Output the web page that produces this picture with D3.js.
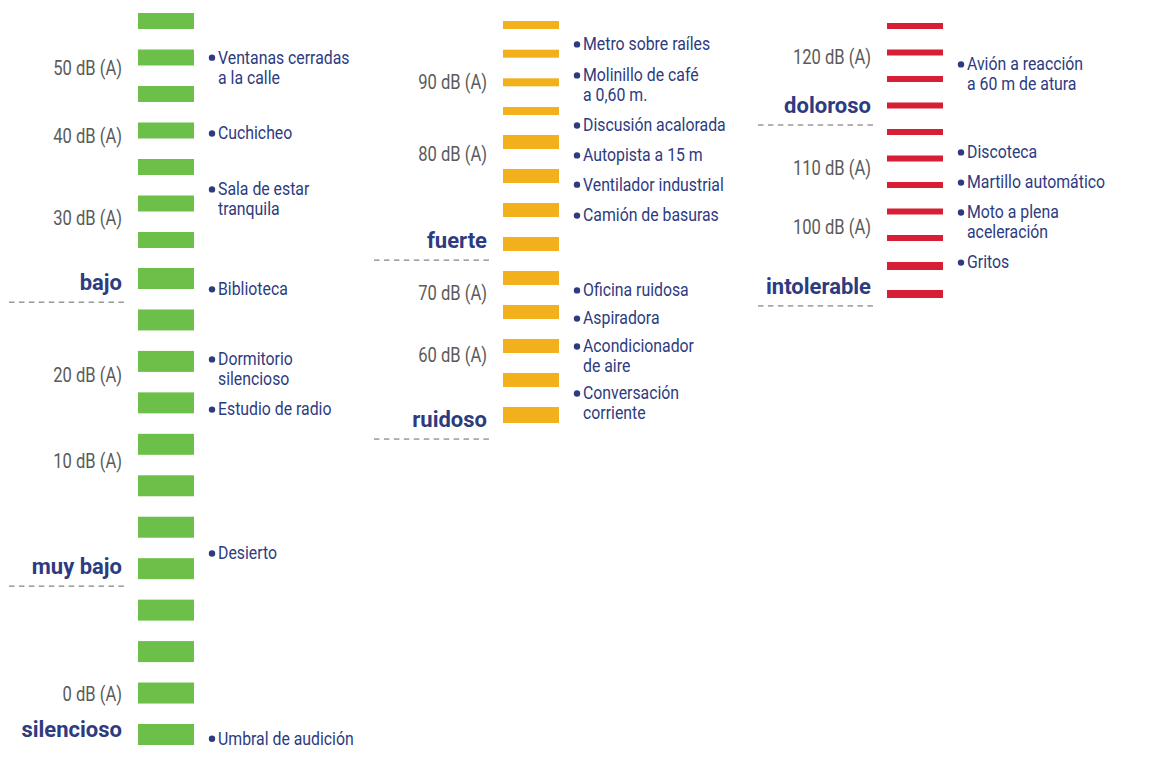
<!DOCTYPE html>
<html>
<head>
<meta charset="utf-8">
<script src="https://cdn.jsdelivr.net/npm/d3@7"></script>
<style>
  body { margin: 0; background: #fff; }
</style>
</head>
<body>
<div id="chart"></div>
<script>
// número de escalones (barras) de cada columna, de arriba a abajo
const columnKeys = ["baja", "media", "alta"];
const barCounts = [19, 13, 11];

// etiquetas de nivel en dB: columna y posición (en escalones desde arriba)
const dbLabels = ["50 dB (A)", "40 dB (A)", "30 dB (A)", "20 dB (A)", "10 dB (A)", "0 dB (A)",
                  "90 dB (A)", "80 dB (A)", "70 dB (A)", "60 dB (A)",
                  "120 dB (A)", "110 dB (A)", "100 dB (A)"];
const dbColumn = [0, 0, 0, 0, 0, 0, 1, 1, 1, 1, 2, 2, 2];
const dbSlot = [1.29, 3.15, 5.4, 9.33, 11.4, 17.02, 2.0, 4.35, 8.44, 10.26, 1.17, 5.36, 7.58];

// categorías de ruido
const levelNames = ["bajo", "muy bajo", "silencioso", "fuerte", "ruidoso", "doloroso", "intolerable"];
const levelColumn = [0, 0, 0, 1, 1, 2, 2];
const levelSlot = [7.1, 13.95, 17.88, 6.9, 12.13, 3.0, 9.73];
const levelDivider = [true, true, false, true, true, true, true];

// ejemplos de fuentes de ruido
const itemLines = [
  ["Ventanas cerradas", "a la calle"], ["Cuchicheo"], ["Sala de estar", "tranquila"],
  ["Biblioteca"], ["Dormitorio", "silencioso"], ["Estudio de radio"], ["Desierto"],
  ["Umbral de audición"],
  ["Metro sobre raíles"], ["Molinillo de café", "a 0,60 m."], ["Discusión acalorada"],
  ["Autopista a 15 m"], ["Ventilador industrial"], ["Camión de basuras"],
  ["Oficina ruidosa"], ["Aspiradora"], ["Acondicionador", "de aire"], ["Conversación", "corriente"],
  ["Avión a reacción", "a 60 m de atura"], ["Discoteca"], ["Martillo automático"],
  ["Moto a plena", "aceleración"], ["Gritos"]
];
const itemColumn = [0, 0, 0, 0, 0, 0, 0, 0, 1, 1, 1, 1, 1, 1, 1, 1, 1, 1, 2, 2, 2, 2, 2];
const itemSlot = [0.99, 3.07, 4.6, 7.25, 8.94, 10.15, 13.62, 18.09,
                  0.66, 1.74, 3.45, 4.38, 5.24, 6.15, 8.35, 9.18, 10.0, 11.37,
                  1.43, 4.75, 5.89, 7.02, 8.86];

const width = 1172, height = 773;
const barWidth = 56;
const navy = "#2d3b80";

// geometría de cada columna: escala vertical por tramos y grosor de barra
const layout = [
  { x: 138, color: "#6cc04a",
    y: d3.scaleLinear().domain([0, 6, 7, 18]).range([21, 240, 278.5, 734.5]),
    h: d3.scaleThreshold().domain([7]).range([16, 21]) },
  { x: 503, color: "#f1b01c",
    y: d3.scaleLinear().domain([0, 3, 4, 11, 12]).range([25, 111, 142, 380, 415]),
    h: d3.scaleThreshold().domain([4, 12]).range([8, 14, 16]) },
  { x: 887, color: "#d81e34",
    y: d3.scaleLinear().domain([0, 8, 9, 10]).range([26, 238, 266, 294]),
    h: d3.scaleThreshold().domain([9]).range([6, 8]) }
];

const svg = d3.select("#chart").append("svg")
    .attr("width", width)
    .attr("height", height)
    .style("font-family", "Roboto, 'Open Sans', sans-serif");

// barras
columnKeys.forEach((key, c) => {
  const L = layout[c];
  svg.append("g").attr("class", "bars-" + key)
    .selectAll("rect")
    .data(d3.range(barCounts[c]))
    .join("rect")
      .attr("x", L.x)
      .attr("width", barWidth)
      .attr("y", s => L.y(s) - L.h(s) / 2)
      .attr("height", s => L.h(s))
      .attr("fill", L.color);
});

// texto estrecho (la fuente original es condensada)
function narrowText(parent, x, y, txt, size, sx, anchor, color, weight) {
  parent.append("g")
      .attr("transform", `translate(${x},${y}) scale(${sx},1)`)
    .append("text")
      .attr("text-anchor", anchor)
      .attr("dominant-baseline", "central")
      .style("font-size", size + "px")
      .style("font-weight", weight || 400)
      .attr("fill", color)
      .text(txt);
}

// etiquetas dB
const gDb = svg.append("g");
dbLabels.forEach((t, i) => {
  const L = layout[dbColumn[i]];
  narrowText(gDb, L.x - 16, L.y(dbSlot[i]), t, 19.5, 0.85, "end", "#5a5a5a");
});

// categorías y líneas discontinuas
const gLev = svg.append("g");
levelNames.forEach((t, i) => {
  const L = layout[levelColumn[i]];
  const yc = L.y(levelSlot[i]);
  gLev.append("text")
      .attr("x", L.x - 16)
      .attr("y", yc)
      .attr("text-anchor", "end")
      .attr("dominant-baseline", "central")
      .style("font-size", "22px")
      .style("font-weight", 700)
      .attr("fill", navy)
      .text(t);
  if (levelDivider[i]) {
    gLev.append("line")
        .attr("x1", L.x - 129).attr("x2", L.x - 14)
        .attr("y1", yc + 19.5).attr("y2", yc + 19.5)
        .attr("stroke", "#666")
        .attr("stroke-width", 1)
        .attr("stroke-dasharray", "5.5,4.45");
  }
});

// ejemplos con viñeta
const gItems = svg.append("g");
itemLines.forEach((lines, i) => {
  const L = layout[itemColumn[i]];
  const yc = L.y(itemSlot[i]);
  const x1 = L.x + barWidth;
  gItems.append("circle")
      .attr("cx", x1 + 18)
      .attr("cy", yc + 0.5)
      .attr("r", 3.2)
      .attr("fill", navy);
  lines.forEach((ln, k) => {
    narrowText(gItems, x1 + 24, yc + k * 20, ln, 18, 0.88, "start", navy);
  });
});
</script>
</body>
</html>
